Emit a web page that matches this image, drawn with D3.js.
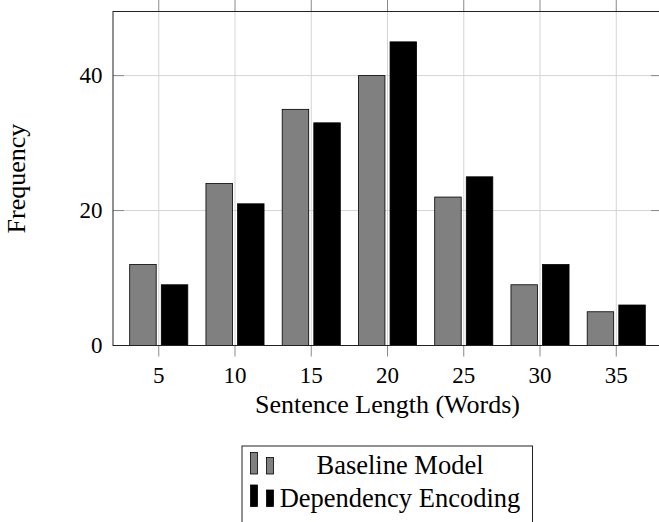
<!DOCTYPE html>
<html>
<head>
<meta charset="utf-8">
<script src="https://cdn.jsdelivr.net/npm/d3@7"></script>
<style>
  html, body { margin: 0; padding: 0; background: #fff; }
  svg { display: block; }
  text { font-family: "Liberation Serif", "Times New Roman", serif; fill: #000; }
</style>
</head>
<body>
<svg id="chart" width="659" height="522"></svg>
<script>
// ---- data ----
const lengths = [5, 10, 15, 20, 25, 30, 35];
const baselineValues = [12, 24, 35, 40, 22, 9, 5];
const dependencyValues = [9, 21, 33, 45, 25, 12, 6];
const seriesNames = ["Baseline Model", "Dependency Encoding"];
const seriesColors = ["#808080", "#000000"];
const yTicks = [0, 20, 40];
const xLabel = "Sentence Length (Words)";
const yLabel = "Frequency";

// ---- layout ----
const svg = d3.select("#chart");
const pL = 113, pR = 662, pT = 11.5, pB = 345.5;
const x = d3.scaleLinear().domain([2, 38]).range([pL, pR]);
const y = d3.scaleLinear().domain([0, 49.5]).range([pB, pT]);
const barW = 26.5, shift = 15.8;

// grid
const grid = svg.append("g");
grid.selectAll("line.vx").data(lengths).join("line")
  .attr("x1", d => x(d)).attr("x2", d => x(d))
  .attr("y1", pT).attr("y2", pB)
  .attr("stroke", "#d4d4d4").attr("stroke-width", 1);
grid.selectAll("line.hy").data(yTicks).join("line")
  .attr("x1", pL).attr("x2", pR)
  .attr("y1", d => y(d)).attr("y2", d => y(d))
  .attr("stroke", "#d4d4d4").attr("stroke-width", 1);

// bars
const series = [baselineValues, dependencyValues];
series.forEach((vals, si) => {
  const off = si === 0 ? -shift : shift;
  svg.append("g").selectAll("rect").data(vals).join("rect")
    .attr("x", (d, i) => x(lengths[i]) + off - barW / 2)
    .attr("width", barW)
    .attr("y", d => y(d))
    .attr("height", d => y(0) - y(d))
    .attr("fill", seriesColors[si])
    .attr("stroke", "#000").attr("stroke-width", 0.8);
});

// ticks
const ticks = svg.append("g").attr("stroke", "#8a8a8a").attr("stroke-width", 1);
lengths.forEach(d => {
  ticks.append("line").attr("x1", x(d)).attr("x2", x(d)).attr("y1", pB).attr("y2", pB + 11);
  ticks.append("line").attr("x1", x(d)).attr("x2", x(d)).attr("y1", pT).attr("y2", pT - 12);
});
yTicks.forEach(d => {
  ticks.append("line").attr("x1", pL).attr("x2", pL + 11).attr("y1", y(d)).attr("y2", y(d));
  ticks.append("line").attr("x1", pR).attr("x2", pR - 11).attr("y1", y(d)).attr("y2", y(d));
});

// frame
svg.append("rect").attr("x", pL).attr("y", pT)
  .attr("width", pR - pL).attr("height", pB - pT)
  .attr("fill", "none").attr("stroke", "#222").attr("stroke-width", 1);

// tick labels
svg.append("g").selectAll("text").data(lengths).join("text")
  .attr("x", d => x(d)).attr("y", 383)
  .attr("text-anchor", "middle").attr("font-size", 23)
  .text(d => d);
svg.append("g").selectAll("text").data(yTicks).join("text")
  .attr("x", 102.5).attr("y", d => y(d) + 7.5)
  .attr("text-anchor", "end").attr("font-size", 23)
  .text(d => d);

// axis labels
svg.append("text").attr("x", (pL + pR) / 2).attr("y", 413)
  .attr("text-anchor", "middle").attr("font-size", 26).text(xLabel);
svg.append("text")
  .attr("transform", `translate(25,${(pT + pB) / 2}) rotate(-90)`)
  .attr("text-anchor", "middle").attr("font-size", 26).text(yLabel);

// legend
const lg = svg.append("g");
lg.append("rect").attr("x", 242).attr("y", 446).attr("width", 290.5).attr("height", 90)
  .attr("fill", "#fff").attr("stroke", "#222").attr("stroke-width", 1);
const rowBase = [474, 506.5];
seriesNames.forEach((name, i) => {
  const b = rowBase[i];
  lg.append("rect").attr("x", 250.5).attr("y", b - 21.5).attr("width", 7).attr("height", 21.5)
    .attr("fill", seriesColors[i]).attr("stroke", "#000").attr("stroke-width", 0.8);
  lg.append("rect").attr("x", 266.5).attr("y", b - 16.5).attr("width", 7).attr("height", 16.5)
    .attr("fill", seriesColors[i]).attr("stroke", "#000").attr("stroke-width", 0.8);
  lg.append("text").attr("x", 400).attr("y", b)
    .attr("text-anchor", "middle").attr("font-size", 26.5).text(name);
});
</script>
</body>
</html>
